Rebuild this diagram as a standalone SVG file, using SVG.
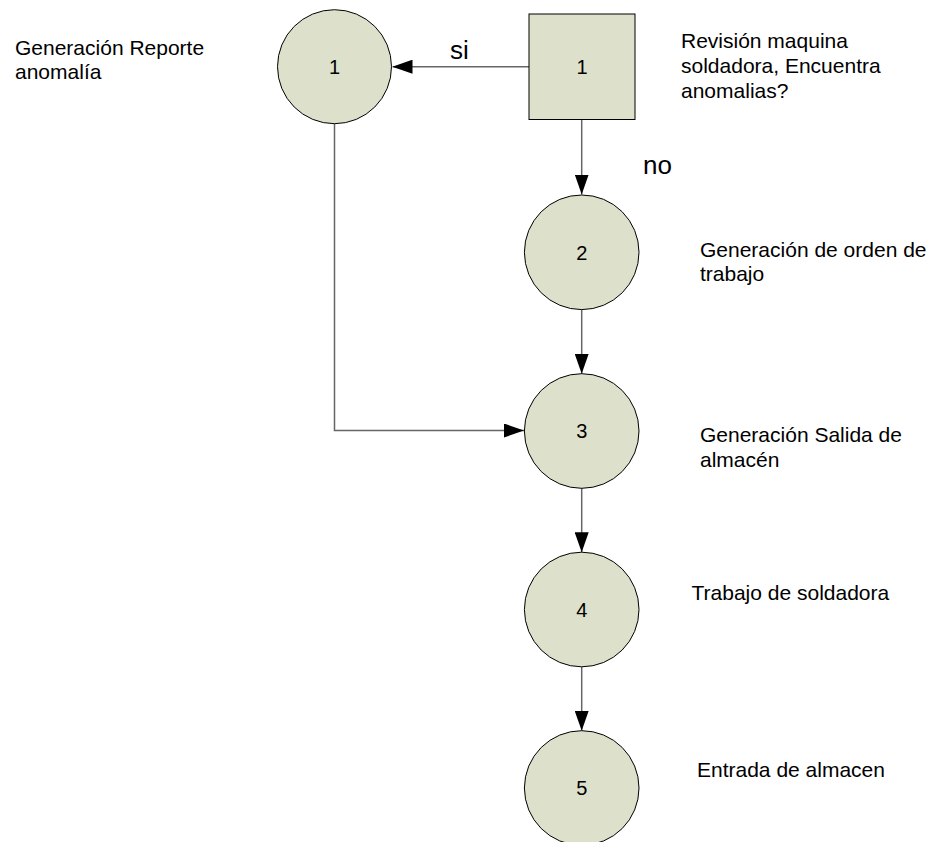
<svg xmlns="http://www.w3.org/2000/svg" width="939" height="842" viewBox="0 0 939 842">
<defs>
<style>
.node{fill:#dde0cb;stroke:#000;stroke-width:1}
.num{font-family:"Liberation Sans",Arial,sans-serif;font-size:20px;fill:#000;text-anchor:middle}
.lbl{font-family:"Liberation Sans",Arial,sans-serif;font-size:21px;fill:#000}
.big{font-family:"Liberation Sans",Arial,sans-serif;font-size:26px;fill:#000}
.conn{fill:none;stroke:#666;stroke-width:1.5}
</style>
<marker id="arr" viewBox="0 0 20 14" refX="20" refY="7" markerWidth="20" markerHeight="14" orient="auto" markerUnits="userSpaceOnUse">
<path d="M0,0 L20,7 L0,14 z" fill="#000"/>
</marker>
</defs>
<rect width="939" height="842" fill="#fff"/>
<g id="connectors">
<path class="conn" d="M529,66.7 H392.5" marker-end="url(#arr)"/>
<path class="conn" d="M581.7,119.5 V194.5" marker-end="url(#arr)"/>
<path class="conn" d="M334.5,123.5 V430.5 H524" marker-end="url(#arr)"/>
<path class="conn" d="M581.7,309.5 V373.8" marker-end="url(#arr)"/>
<path class="conn" d="M581.7,488 V552.3" marker-end="url(#arr)"/>
<path class="conn" d="M581.7,666.8 V730.8" marker-end="url(#arr)"/>
<text class="big" x="450" y="59">si</text>
<text class="big" x="643" y="174">no</text>
</g>
<g id="node-decision-1">
<rect class="node" x="529" y="14" width="106" height="105.5"/>
<text class="num" x="582" y="74">1</text>
<text class="lbl" x="681" y="48">Revisión maquina</text>
<text class="lbl" x="681" y="73">soldadora, Encuentra</text>
<text class="lbl" x="681" y="98">anomalias?</text>
</g>
<g id="node-circle-1">
<circle class="node" cx="334.5" cy="66.7" r="57"/>
<text class="num" x="334.5" y="73.5">1</text>
<text class="lbl" x="15" y="55">Generación Reporte</text>
<text class="lbl" x="15" y="79">anomalía</text>
</g>
<g id="node-2">
<circle class="node" cx="581.7" cy="252.3" r="57.3"/>
<text class="num" x="581.7" y="259.5">2</text>
<text class="lbl" x="700" y="257">Generación de orden de</text>
<text class="lbl" x="700" y="281">trabajo</text>
</g>
<g id="node-3">
<circle class="node" cx="581.7" cy="431" r="57.3"/>
<text class="num" x="581.7" y="438">3</text>
<text class="lbl" x="700" y="442">Generación Salida de</text>
<text class="lbl" x="700" y="466.5">almacén</text>
</g>
<g id="node-4">
<circle class="node" cx="581.7" cy="609.5" r="57.3"/>
<text class="num" x="581.7" y="616.5">4</text>
<text class="lbl" x="691.5" y="600">Trabajo de soldadora</text>
</g>
<g id="node-5">
<circle class="node" cx="581.7" cy="788" r="57.3"/>
<text class="num" x="581.7" y="795">5</text>
<text class="lbl" x="697" y="777">Entrada de almacen</text>
</g>
</svg>
